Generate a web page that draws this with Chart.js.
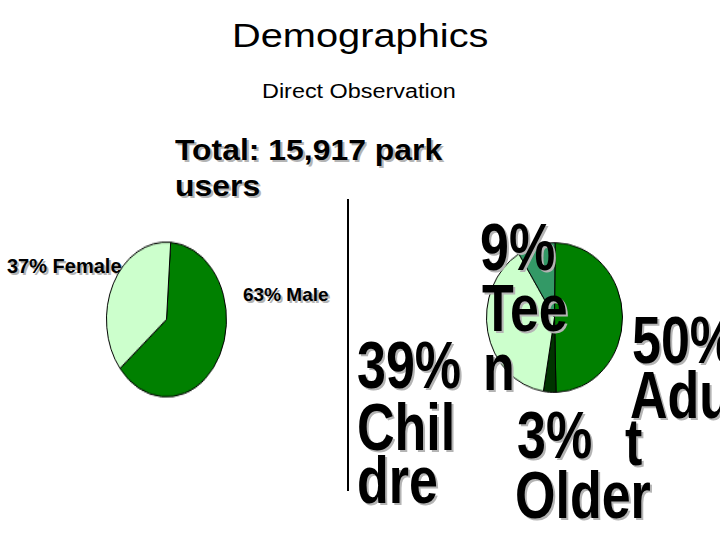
<!DOCTYPE html>
<html>
<head>
<meta charset="utf-8">
<script src="https://cdn.jsdelivr.net/npm/chart.js@4.4.1/dist/chart.umd.min.js"></script>
<style>
  html, body { margin: 0; padding: 0; background: #fff; }
  body { width: 720px; height: 540px; position: relative; overflow: hidden;
         font-family: Arial, "Liberation Sans", sans-serif; color: #000; }
  .t { position: absolute; white-space: nowrap; line-height: 1; }
  .wide { transform-origin: left top; }
  .bold { font-weight: bold; text-shadow: 2px 2px 0 #b4b4b4; }
  .big { font-size: 52px; line-height: 0.7; transform: scaleY(1.3); transform-origin: left top; z-index: 5; }
  .pie { position: absolute; }
  #divider { position: absolute; left: 347px; top: 199px; width: 2px; height: 292px; background: #000; }
</style>
</head>
<body>
<div class="t wide" style="left:232px; top:18px; font-size:34px; transform:scaleX(1.17);">Demographics</div>
<div class="t wide" style="left:262px; top:81px; font-size:20px; transform:scaleX(1.17);">Direct Observation</div>
<div class="t wide bold" style="left:175px; top:132px; font-size:29px; line-height:36px; transform:scaleX(1.1);">Total: 15,917 park<br>users</div>

<div class="t bold" id="femaleLabel" style="left:7px; top:256px; font-size:20px;"></div>
<div class="t bold" id="maleLabel" style="left:243px; top:285px; font-size:19px;"></div>

<div class="pie" style="left:104px; top:257px; transform:scaleY(1.29);">
  <canvas id="genderChart" width="125" height="125"></canvas>
</div>
<div id="divider"></div>
<div class="pie" style="left:484px; top:247px; transform:scaleY(1.10);">
  <canvas id="ageChart" width="141" height="141"></canvas>
</div>

<!-- big labels, broken the way the slide shows them -->
<div class="t bold big" style="left:480px; top:223px;">9%</div>
<div class="t bold big" style="left:482px; top:284px;">Tee</div>
<div class="t bold big" style="left:483px; top:343px;">n</div>
<div class="t bold big" style="left:357px; top:341px;">39%</div>
<div class="t bold big" style="left:357px; top:403px;">Chil</div>
<div class="t bold big" style="left:357px; top:456px;">dre</div>
<div class="t bold big" style="left:632px; top:316px;">50%</div>
<div class="t bold big" style="left:630px; top:371px;">Adu</div>
<div class="t bold big" style="left:625px; top:418px;">t</div>
<div class="t bold big" style="left:517px; top:411px;">3%</div>
<div class="t bold big" style="left:515px; top:471px;">Older</div>

<script>
// Gender split (percent of park users)
const genderLabels = ['Male', 'Female'];
const genderValues = [63, 37];

// Age split, clockwise from the top
const ageLabels = ['Adult', 'Older', 'Children', 'Teen'];
const ageValues = [50, 3, 39, 9];

const green = {
  dark: '#008000',
  light: '#ccffcc',
  mid: '#339966',
  deep: '#003300'
};

document.getElementById('maleLabel').textContent = genderValues[0] + '% ' + genderLabels[0];
document.getElementById('femaleLabel').textContent = genderValues[1] + '% ' + genderLabels[1];

function pieOptions(rotation) {
  return {
    responsive: false,
    animation: false,
    rotation: rotation,
    layout: { padding: 2 },
    plugins: {
      legend: { display: false },
      tooltip: { enabled: false }
    }
  };
}

new Chart(document.getElementById('genderChart'), {
  type: 'pie',
  data: {
    labels: genderLabels,
    datasets: [{
      data: genderValues,
      backgroundColor: [green.dark, green.light],
      borderColor: '#000',
      borderWidth: 1
    }]
  },
  options: pieOptions(4)
});

new Chart(document.getElementById('ageChart'), {
  type: 'pie',
  data: {
    labels: ageLabels,
    datasets: [{
      data: ageValues,
      backgroundColor: [green.dark, green.deep, green.light, green.mid],
      borderColor: '#000',
      borderWidth: 1
    }]
  },
  options: pieOptions(0.5)
});
</script>
</body>
</html>
